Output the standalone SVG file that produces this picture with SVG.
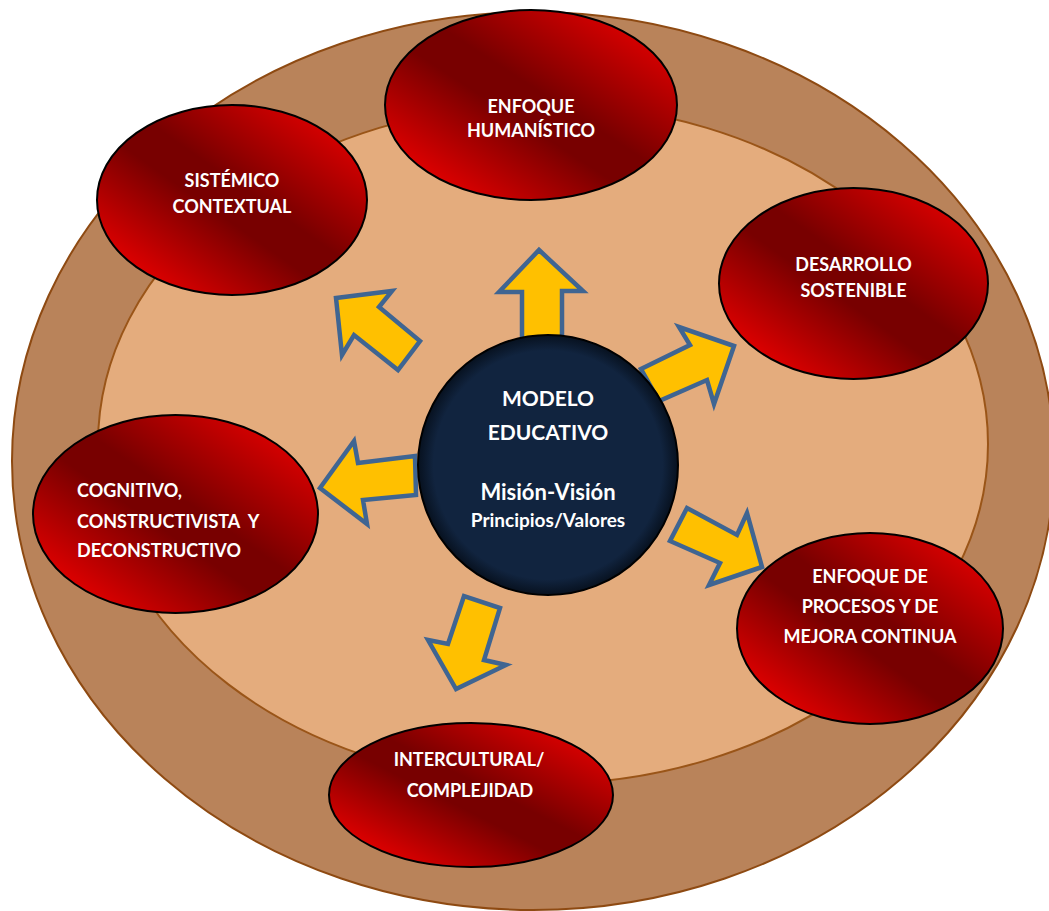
<svg xmlns="http://www.w3.org/2000/svg" width="1049" height="911" viewBox="0 0 1049 911">
  <defs>
    <linearGradient id="redGrad" x1="1" y1="0" x2="0" y2="1">
      <stop offset="0" stop-color="#E80000"/>
      <stop offset="0.1" stop-color="#E00000"/>
      <stop offset="0.45" stop-color="#780000"/>
      <stop offset="0.56" stop-color="#780000"/>
      <stop offset="0.88" stop-color="#E40000"/>
      <stop offset="1" stop-color="#C80000"/>
    </linearGradient>
    <radialGradient id="navyGrad" cx="0.5" cy="0.5" r="0.5">
      <stop offset="0" stop-color="#11243F"/>
      <stop offset="0.88" stop-color="#11243F"/>
      <stop offset="1" stop-color="#07111F"/>
    </radialGradient>
    <style>
      .red { fill: url(#redGrad); stroke: #000; stroke-width: 2; }
      .arrow { fill: #FFC000; stroke: #3F6592; stroke-width: 4.5; stroke-linejoin: miter; }
      .lbl { font-family: Lato, "Open Sans", "Liberation Sans", sans-serif; font-weight: bold; fill: #FFFFFF; font-size: 18px; }
      .mid { text-anchor: middle; }
      .ctr { font-family: Lato, "Open Sans", "Liberation Sans", sans-serif; font-weight: bold; fill: #FFFFFF; text-anchor: middle; }
    </style>
  </defs>
  <rect x="0" y="0" width="1049" height="911" fill="#FFFFFF"/>
  <g id="background">
    <ellipse cx="533" cy="461" rx="521" ry="449" fill="#B9835A" stroke="#8E4A12" stroke-width="2"/>
    <ellipse cx="543" cy="444" rx="445" ry="340" fill="#E4AC7D" stroke="#9A5518" stroke-width="2"/>
  </g>
  <g id="connectors">
    <polygon class="arrow" points="539,250 583,291 562,291 562,345 522,345 522,292 499,292"/>
    <polygon class="arrow" points="336,298 392,291 379,307 420,341 398,370 354,335 342,355"/>
    <polygon class="arrow" points="734,346 714,404 707,380 659,401 641,369 690,345 679,327"/>
    <polygon class="arrow" points="320,488 354,441 358,463 415,456 416,495 363,500 367,524"/>
    <polygon class="arrow" points="762,567 709,585 720,563 670,541 687,508 737,535 747,513"/>
    <polygon class="arrow" points="456,689 428,640 448,644 464,596 500,608 484,660 506,665"/>
  </g>
  <g id="modelo-educativo">
    <circle cx="548" cy="465" r="130" fill="url(#navyGrad)" stroke="#000" stroke-width="2"/>
    <text class="ctr" x="548" y="406" font-size="21">MODELO</text>
    <text class="ctr" x="548" y="440" font-size="21">EDUCATIVO</text>
    <text class="ctr" x="548" y="500" font-size="22">Misión-Visión</text>
    <text class="ctr" x="548" y="527" font-size="19">Principios/Valores</text>
  </g>
  <g id="enfoque-humanistico">
    <ellipse class="red" cx="531" cy="105" rx="146" ry="95"/>
    <text class="lbl mid" x="531" y="113">ENFOQUE</text>
    <text class="lbl mid" x="531" y="137">HUMANÍSTICO</text>
  </g>
  <g id="sistemico-contextual">
    <ellipse class="red" cx="232" cy="200" rx="135" ry="95"/>
    <text class="lbl mid" x="232" y="187">SISTÉMICO</text>
    <text class="lbl mid" x="232" y="213">CONTEXTUAL</text>
  </g>
  <g id="desarrollo-sostenible">
    <ellipse class="red" cx="853.5" cy="283.5" rx="134.5" ry="95.5"/>
    <text class="lbl mid" x="853.5" y="271">DESARROLLO</text>
    <text class="lbl mid" x="853.5" y="297">SOSTENIBLE</text>
  </g>
  <g id="cognitivo">
    <ellipse class="red" cx="175.5" cy="514" rx="142.5" ry="99"/>
    <text class="lbl" x="77" y="497">COGNITIVO,</text>
    <text class="lbl" x="77" y="528" xml:space="preserve">CONSTRUCTIVISTA  Y</text>
    <text class="lbl" x="77" y="557">DECONSTRUCTIVO</text>
  </g>
  <g id="enfoque-procesos">
    <ellipse class="red" cx="870" cy="628.5" rx="133" ry="95.5"/>
    <text class="lbl mid" x="870" y="583">ENFOQUE DE</text>
    <text class="lbl mid" x="870" y="613">PROCESOS Y DE</text>
    <text class="lbl mid" x="870" y="643">MEJORA CONTINUA</text>
  </g>
  <g id="intercultural">
    <ellipse class="red" cx="471" cy="795" rx="142" ry="72"/>
    <text class="lbl mid" x="469" y="766">INTERCULTURAL/</text>
    <text class="lbl mid" x="470" y="797">COMPLEJIDAD</text>
  </g>
</svg>
